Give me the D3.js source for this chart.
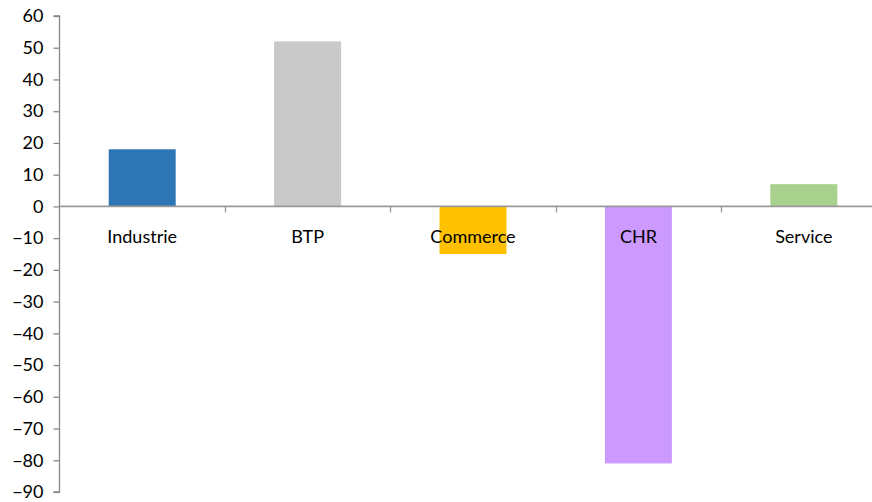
<!DOCTYPE html>
<html><head><meta charset="utf-8">
<script src="https://cdn.jsdelivr.net/npm/d3@7"></script>
<style>html,body{margin:0;padding:0;background:#fff;}svg{display:block;}</style>
</head><body>
<script>
const categories = ["Industrie", "BTP", "Commerce", "CHR", "Service"];
const values = [18, 52, -15, -81, 7];
const colors = ["#2E75B6", "#C9C9C9", "#FFC000", "#CC99FF", "#A9D18E"];
const yTicks = [60, 50, 40, 30, 20, 10, 0, -10, -20, -30, -40, -50, -60, -70, -80, -90];

const W = 872, H = 502;
const svg = d3.select("body").append("svg").attr("width", W).attr("height", H);
const font = "Lato, 'Open Sans', sans-serif";

const y = d3.scaleLinear().domain([-90, 60]).range([492, 16]);
const x = d3.scaleBand().domain(categories).range([59.5, 886.5]);
const barW = x.bandwidth() * 0.405;

// bars
svg.selectAll("rect.bar").data(categories).join("rect")
  .attr("x", (d) => x(d) + (x.bandwidth() - barW) / 2)
  .attr("width", barW)
  .attr("y", (d, i) => y(Math.max(0, values[i])))
  .attr("height", (d, i) => Math.abs(y(values[i]) - y(0)))
  .attr("fill", (d, i) => colors[i]);

// y axis
const yAxis = d3.axisLeft(y).tickValues(yTicks).tickSize(6).tickPadding(10).tickFormat(d3.format("d"));
const gy = svg.append("g").attr("transform", "translate(59.5,0)").call(yAxis);
gy.select(".domain").attr("stroke", "#888").attr("stroke-width", 1.3).attr("d", `M-6,${y(60)}H0V${y(-90)}H-6`);
gy.selectAll(".tick line").attr("stroke", "#888").attr("stroke-width", 1.3);
gy.selectAll(".tick text").attr("font-family", font).attr("font-size", 18).attr("fill", "#000");

// x axis at zero
const gx = svg.append("g").attr("transform", `translate(0,${y(0)})`);
gx.append("line").attr("x1", 59.5).attr("x2", W).attr("stroke", "#999").attr("stroke-width", 1.6);
const bounds = categories.slice(1).map(c => x(c));
gx.selectAll("line.tk").data(bounds).join("line")
  .attr("x1", d => Math.round(d) + 0.5).attr("x2", d => Math.round(d) + 0.5)
  .attr("y1", 0).attr("y2", 6).attr("stroke", "#999").attr("stroke-width", 1.3);
gx.selectAll("text.cat").data(categories).join("text")
  .attr("x", d => x(d) + x.bandwidth() / 2)
  .attr("y", 37)
  .attr("text-anchor", "middle")
  .attr("font-family", font).attr("font-size", 18).attr("fill", "#000")
  .text(d => d);
</script>
</body></html>
